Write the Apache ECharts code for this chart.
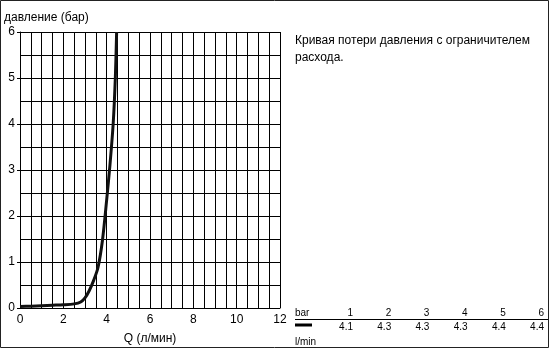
<!DOCTYPE html>
<html><head><meta charset="utf-8">
<script src="https://cdn.jsdelivr.net/npm/echarts@6/dist/echarts.min.js"></script>
<style>html,body{margin:0;padding:0;background:#fff}#c{width:550px;height:350px}</style>
</head><body><div id="c"></div>
<script>
// Curve data: flow Q (l/min) vs pressure loss (bar)
const flowQ = [0, 0.5, 1, 1.5, 2, 2.5, 2.8, 3.0, 3.2, 3.4, 3.6, 3.8, 4.0, 4.15, 4.3, 4.4, 4.46];
const pressureP = [0.03, 0.04, 0.05, 0.06, 0.07, 0.09, 0.13, 0.22, 0.38, 0.6, 0.88, 1.45, 2.35, 3.1, 4.0, 5.0, 6.0];
// Table values
const tableBar = ['1', '2', '3', '4', '5', '6'];
const tableFlow = ['4.1', '4.3', '4.3', '4.3', '4.4', '4.4'];
const xTickLabels = ['0', '2', '4', '6', '8', '10', '12'];
const yTickLabels = ['0', '1', '2', '3', '4', '5', '6'];
const yAxisTitle = 'давление (бар)';
const xAxisTitle = 'Q (л/мин)';
const titleLines = ['Кривая потери давления с ограничителем', 'расхода.'];

const FONT = 'Liberation Sans, Arial, sans-serif';
const chart = echarts.init(document.getElementById('c'), null, {renderer: 'canvas'});

const graphics = [
  {type: 'rect', shape: {x: 0.5, y: 0.5, width: 548, height: 347}, style: {fill: 'none', stroke: '#222', lineWidth: 1}, silent: true},
  {type: 'text', left: 4, top: 12, style: {text: yAxisTitle, font: '12px ' + FONT, fill: '#000'}},
  {type: 'text', left: 295, top: 32, style: {text: titleLines.join('\n'), font: '12px ' + FONT, fill: '#000', lineHeight: 17}},
  {type: 'text', x: 295, y: 313, style: {text: 'bar', font: '10px ' + FONT, fill: '#000', textVerticalAlign: 'middle', textAlign: 'left'}},
  {type: 'text', x: 295, y: 342, style: {text: 'l/min', font: '10px ' + FONT, fill: '#000', textVerticalAlign: 'middle', textAlign: 'left'}},
  {type: 'line', shape: {x1: 295, y1: 319.5, x2: 548, y2: 319.5}, style: {stroke: '#000', lineWidth: 1}},
  {type: 'line', shape: {x1: 295, y1: 325, x2: 312, y2: 325}, style: {stroke: '#000', lineWidth: 3}}
];
tableBar.forEach((b, i) => {
  const xr = 353 + 38.2 * i;
  graphics.push({type: 'text', x: xr, y: 313, style: {text: b, font: '10px ' + FONT, fill: '#000', textAlign: 'right', textVerticalAlign: 'middle'}});
  graphics.push({type: 'text', x: xr, y: 327, style: {text: tableFlow[i], font: '10px ' + FONT, fill: '#000', textAlign: 'right', textVerticalAlign: 'middle'}});
});

chart.setOption({
  animation: false,
  backgroundColor: '#fff',
  grid: {left: 20, right: 270, top: 32, bottom: 37, containLabel: false},
  xAxis: {
    type: 'value', min: 0, max: 12, interval: 2,
    name: xAxisTitle, nameLocation: 'middle', nameGap: 25,
    nameTextStyle: {fontFamily: FONT, fontSize: 12, color: '#000'},
    axisLine: {show: true, lineStyle: {color: '#000', width: 1}},
    axisTick: {show: false},
    axisLabel: {fontFamily: FONT, fontSize: 12, color: '#000', margin: 6,
      formatter: v => xTickLabels[Math.round(v / 2)]},
    splitLine: {show: true, lineStyle: {color: '#000', width: 1}},
    minorTick: {show: false, splitNumber: 4},
    minorSplitLine: {show: true, lineStyle: {color: '#000', width: 1}}
  },
  yAxis: {
    type: 'value', min: 0, max: 6, interval: 1,
    axisLine: {show: true, lineStyle: {color: '#000', width: 1}},
    axisTick: {show: true, length: 3, lineStyle: {color: '#000'}},
    axisLabel: {fontFamily: FONT, fontSize: 12, color: '#000', margin: 5,
      formatter: v => yTickLabels[Math.round(v)]},
    splitLine: {show: true, lineStyle: {color: '#000', width: 1}},
    minorTick: {show: false, splitNumber: 2},
    minorSplitLine: {show: true, lineStyle: {color: '#000', width: 1}}
  },
  series: [{
    type: 'line',
    data: flowQ.map((q, i) => [q, pressureP[i]]),
    smooth: 0.3,
    showSymbol: false,
    lineStyle: {color: '#111', width: 3},
    clip: true
  }],
  graphic: graphics
});
</script></body></html>
